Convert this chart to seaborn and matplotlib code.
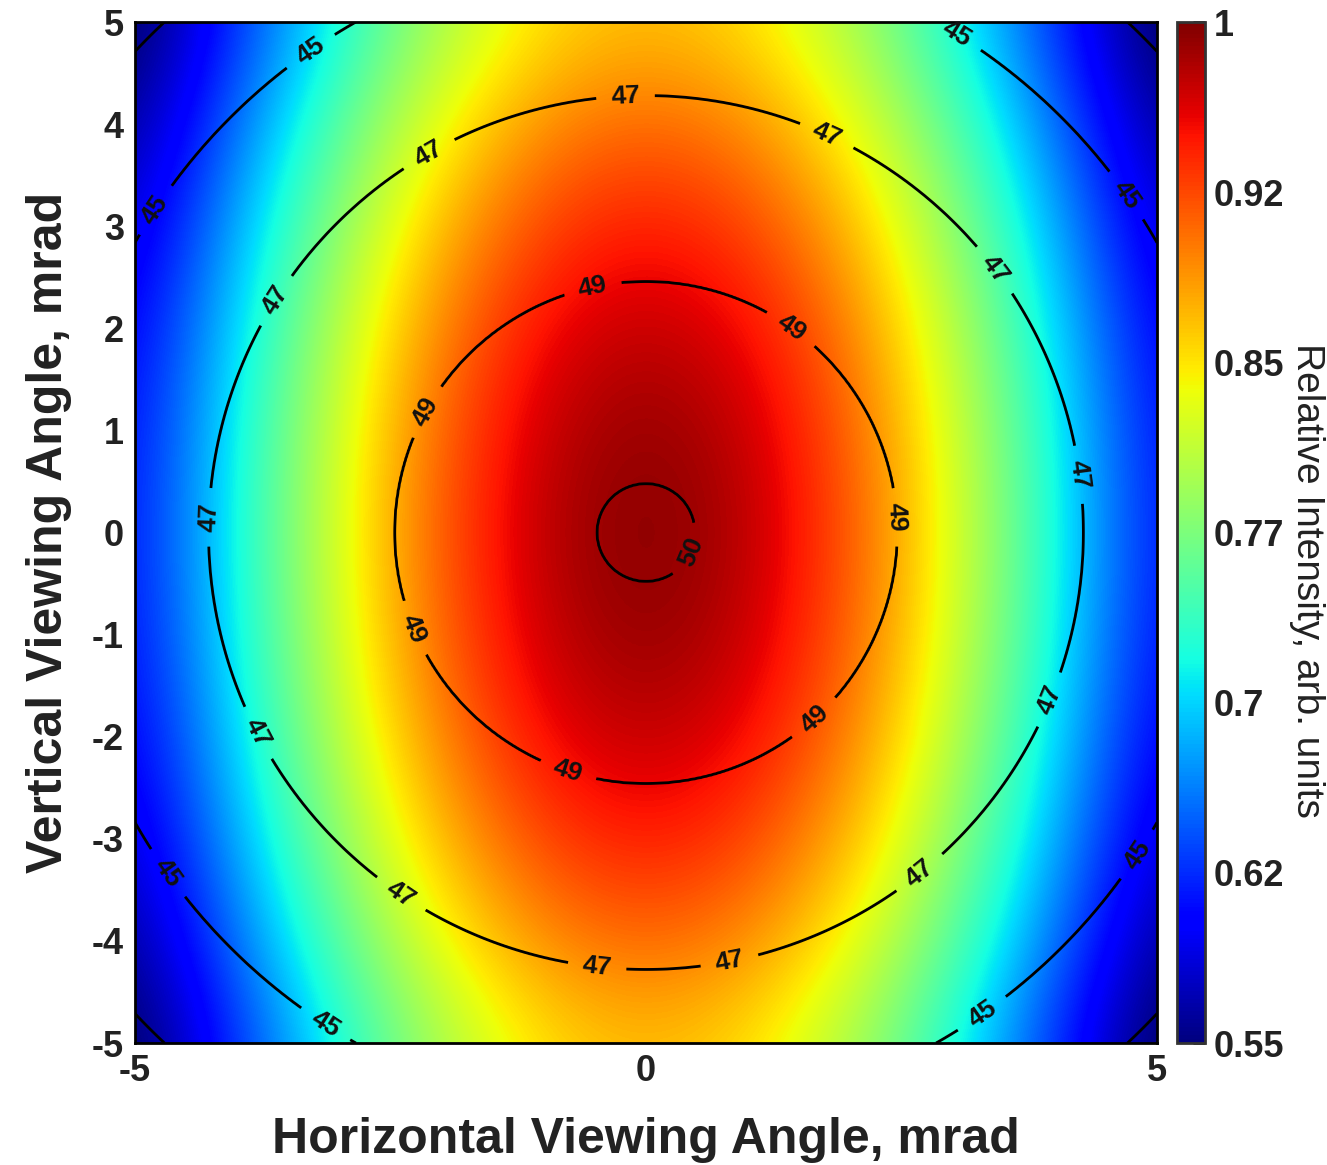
import numpy as np
import matplotlib
matplotlib.use("Agg")
import matplotlib.pyplot as plt
import seaborn as sns

# ---- data ----
# angle sample positions (mrad)
angle_pts = [-5, -4, -3, -2, -1, 0, 1, 2, 3, 4, 5]
# relative intensity along the horizontal axis (at vertical angle 0)
horiz_profile = [0.61, 0.72, 0.83, 0.92, 0.98, 1.0, 0.98, 0.92, 0.83, 0.72, 0.61]
# relative intensity along the vertical axis (at horizontal angle 0)
vert_profile = [0.87, 0.912, 0.949, 0.977, 0.994, 1.0, 0.994, 0.977, 0.949, 0.912, 0.87]

# contour quantity: radial position (mrad) of each contour value
ring_radius = [0.0, 0.48, 2.46, 4.28, 5.75, 6.87, 7.5]
ring_value = [50.1, 50.0, 49.0, 47.0, 45.0, 43.0, 42.0]
unlabelled_levels = [43]
labelled_levels = [45, 47, 49, 50]

cbar_ticks = [0.55, 0.625, 0.7, 0.775, 0.85, 0.925, 1.0]
cbar_ticklabels = ["0.55", "0.62", "0.7", "0.77", "0.85", "0.92", "1"]
axis_ticks = [-5, -4, -3, -2, -1, 0, 1, 2, 3, 4, 5]

# label anchor points along the contours (data coords)
label_points = [
    (-3.21, 4.62), (-4.71, 3.10), (2.93, 4.72), (4.62, 3.25),
    (-4.64, -3.31), (-3.09, -4.75), (3.22, -4.61), (4.74, -3.11),
    (-0.2, 4.26), (1.78, 3.91), (-2.13, 3.72), (-3.65, 2.29), (3.41, 2.57),
    (-4.30, 0.15), (4.27, 0.57), (-3.85, -1.99), (3.98, -1.65),
    (-2.41, -3.56), (2.70, -3.36), (-0.48, -4.27), (0.82, -4.21),
    (-0.52, 2.39), (1.41, 1.98), (-2.16, 1.19), (2.46, 0.15),
    (-2.31, -0.96), (1.65, -1.82), (-0.77, -2.36),
    (0.43, -0.18),
]

# ---- style ----
sns.set_theme(style="white")
plt.rcParams["font.family"] = ["Liberation Sans", "DejaVu Sans"]
jet = matplotlib.colormaps["jet"]

fig = plt.figure(figsize=(13.27, 11.65), dpi=100)
ax = fig.add_axes([0.1017, 0.1047, 0.7702, 0.8764])
cax = fig.add_axes([0.8870, 0.1047, 0.0211, 0.8764])

intensity = np.outer(vert_profile, horiz_profile)
half = 0.5 * (angle_pts[1] - angle_pts[0])
im = ax.imshow(intensity, origin="lower", cmap=jet, vmin=0.55, vmax=1.0,
               extent=(angle_pts[0] - half, angle_pts[-1] + half,
                       angle_pts[0] - half, angle_pts[-1] + half),
               interpolation="bicubic", interpolation_stage="data",
               aspect="auto")

gx = np.linspace(-5, 5, 801)
GX, GY = np.meshgrid(gx, gx)
field = np.interp(np.hypot(GX, GY), ring_radius, ring_value)
ax.contour(GX, GY, field, levels=unlabelled_levels, colors="black",
           linewidths=2.0)
cs = ax.contour(GX, GY, field, levels=labelled_levels, colors="black",
                linewidths=2.0)
lbls = ax.clabel(cs, manual=label_points, inline=True,
                 inline_spacing=12, fmt="%d", fontsize=19)
for t in lbls:
    t.set_fontweight("bold")
    t.set_color("#111111")

ax.set_xlim(-5, 5)
ax.set_ylim(-5, 5)
ax.set_xticks([-5, 0, 5])
ax.set_xticklabels(["-5", "0", "5"])
ax.set_yticks(axis_ticks)
ax.set_yticklabels([str(t) for t in axis_ticks])
ax.tick_params(axis="both", length=0, labelsize=26, pad=8, colors="#222222")
for lab in ax.get_xticklabels() + ax.get_yticklabels():
    lab.set_fontweight("bold")
for sp in ax.spines.values():
    sp.set_visible(True)
    sp.set_color("black")
    sp.set_linewidth(2)

ax.set_xlabel("Horizontal Viewing Angle, mrad", fontsize=36,
              fontweight="bold", color="#222222", labelpad=20)
ax.set_ylabel("Vertical Viewing Angle, mrad", fontsize=36,
              fontweight="bold", color="#222222", labelpad=14)

cb = fig.colorbar(im, cax=cax, ticks=cbar_ticks)
cb.ax.set_yticklabels(cbar_ticklabels)
cb.ax.tick_params(direction="in", length=9, width=2, labelsize=26,
                  colors="#222222", pad=6)
for lab in cb.ax.get_yticklabels():
    lab.set_fontweight("bold")
cb.outline.set_linewidth(2)
cb.outline.set_edgecolor("#333333")

fig.text(1307 / 1327, 1 - 580 / 1165, "Relative Intensity, arb. units",
         rotation=-90, ha="center", va="center", fontsize=28,
         color="#222222")

fig.savefig("out.png", dpi=100)
